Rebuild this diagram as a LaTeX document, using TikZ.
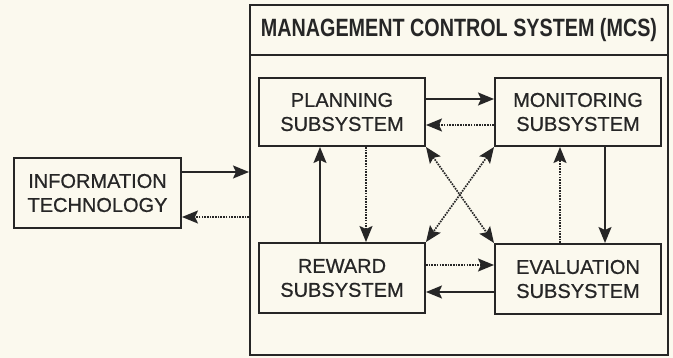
\documentclass[tikz,border=0pt]{standalone}
\usepackage{fontspec}
\setmainfont{Liberation Sans}[FakeBold=0.7]
\newfontfamily\narrowfont{Liberation Sans}[FakeStretch=0.79]
\usepackage{tikz}
\usetikzlibrary{arrows}
\usetikzlibrary{arrows.meta}
\definecolor{paper}{RGB}{251,249,238}
\definecolor{ink}{RGB}{38,38,38}

\begin{document}
\begin{tikzpicture}[x=1pt,y=-1pt]
	\tikzstyle{every node}=[font=\fontsize{20}{24}\selectfont,text=ink]
	\tikzstyle{box}=[draw=ink,line width=2pt,align=center,inner sep=0pt,minimum width=166pt,minimum height=68pt]
	\tikzstyle{solidarrow}=[draw=ink,line width=1.7pt,-{Stealth[length=16pt,width=13pt,inset=3pt]}]
	\tikzstyle{dotarrow}=[solidarrow,dash pattern=on 1.6pt off 1.1pt]
	\tikzstyle{dotboth}=[dotarrow,{Stealth[length=16pt,width=13pt,inset=3pt]}-{Stealth[length=16pt,width=13pt,inset=3pt]}]

	\fill[paper] (0,0) rectangle (673,358);
	\useasboundingbox (0,0) rectangle (673,358);

	\node[box,minimum width=418pt,minimum height=50pt] (mcstitle) at (459,30) {\narrowfont\bfseries\fontsize{25}{28}\selectfont MANAGEMENT CONTROL SYSTEM (MCS)};
	\node[box,minimum width=418pt,minimum height=300pt] (mcs) at (459,205) {};

	\node[box,minimum width=167pt,minimum height=70pt] (it) at (97.5,193) {INFORMATION\\TECHNOLOGY};
	\node[box] (plan) at (342,112) {PLANNING\\SUBSYSTEM};
	\node[box] (mon) at (578,112) {MONITORING\\SUBSYSTEM};
	\node[box,minimum height=70pt] (rew) at (342,278) {REWARD\\SUBSYSTEM};
	\node[box,minimum height=70pt] (eva) at (578,279) {EVALUATION\\SUBSYSTEM};

	\draw[solidarrow] (it.east |- 0,172) -- (mcs.west |- 0,172);
	\draw[dotarrow] (mcs.west |- 0,217) -- (it.east |- 0,217);

	\draw[solidarrow] (plan.east |- 0,99) -- (mon.west |- 0,99);
	\draw[dotarrow] (mon.west |- 0,125) -- (plan.east |- 0,125);
	\draw[dotarrow] (rew.east |- 0,265) -- (eva.west |- 0,265);
	\draw[solidarrow] (eva.west |- 0,292) -- (rew.east |- 0,292);

	\draw[dotarrow] (plan.south -| 366,0) -- (rew.north -| 366,0);
	\draw[solidarrow] (rew.north -| 320,0) -- (plan.south -| 320,0);
	\draw[solidarrow] (mon.south -| 605,0) -- (eva.north -| 605,0);
	\draw[dotarrow] (eva.north -| 560,0) -- (mon.south -| 560,0);

	\draw[dotboth] (plan.south east) -- (eva.north west);
	\draw[dotboth] (mon.south west) -- (rew.north east);
\end{tikzpicture}
\end{document}
